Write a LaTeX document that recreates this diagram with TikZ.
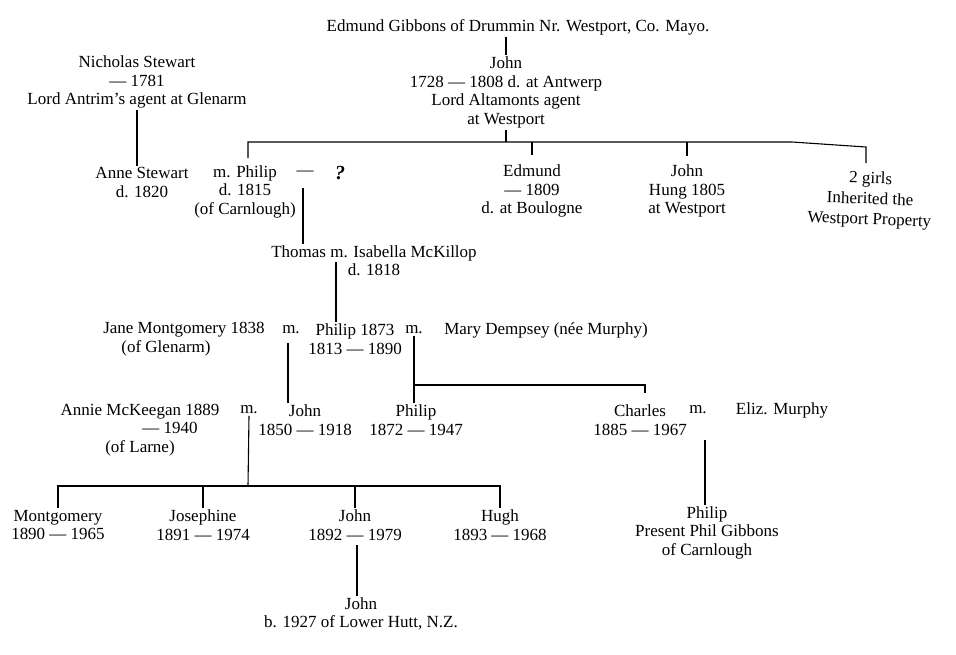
\documentclass[tikz,border=0pt]{standalone}
\usepackage{fontspec}
\setmainfont{Liberation Serif}
\usepackage{tikz}

\begin{document}
\begin{tikzpicture}[x=1pt,y=-1pt,
    person/.style={align=center,inner sep=1.5pt,font=\fontsize{17}{18.5}\selectfont},
    link/.style={line width=1.1pt}]
\useasboundingbox (0,0) rectangle (956,654);

% Gibbons of Drummin
\node[person] (edmund) at (518,27) {Edmund Gibbons of Drummin Nr. Westport, Co. Mayo.};
\node[person] (johnsr) at (506,92.5) {John\\1728 — 1808 d. at Antwerp\\Lord Altamonts agent\\at Westport};
\draw[link] (johnsr.north |- edmund.south) -- (johnsr.north);

% Stewart side
\node[person] (nicholas) at (137,82) {Nicholas Stewart\\— 1781\\Lord Antrim's agent at Glenarm};
\node[person] (anne) at (142,182.5) {Anne Stewart\\d. 1820};
\draw[link] (nicholas.south) -- (nicholas.south |- anne.north);

% Children of John
\node[person] (philip) at (245,191.5) {m. Philip\\d. 1815\\(of Carnlough)};
\node[person] (dash) at (305,173) {—};
\node[person] (unknown) at (340,173) {\fontsize{20}{20}\selectfont\textbf{\textit{?}}};
\node[person] (edmundjr) at (532,191) {Edmund\\— 1809\\d. at Boulogne};
\node[person] (johnhung) at (687,191) {John\\Hung 1805\\at Westport};
\node[person,rotate=-2,font=\fontsize{17}{20.5}\selectfont] (girls) at (870,200) {2 girls\\Inherited the\\Westport Property};
\coordinate (bar) at (506,142);
\coordinate (bend) at (792,142);
\coordinate (girlsdrop) at (866,147);
\draw[link] (johnsr.south) -- (bar);
\draw[link] (248,158) -- (248,142) -- (bend) -- (girlsdrop) -- (866,163);
\draw[link] (edmundjr.north |- bar) -- ++(0,13);
\draw[link] (johnhung.north |- bar) -- ++(0,14);

% Thomas
\node[person] (thomas) at (374,260.5) {Thomas m. Isabella McKillop\\d. 1818};
\draw[link] (303,188) -- (303,188 |- thomas.north);
\coordinate (thomasdrop) at (336,262);

% Philip and his two marriages
\node[person] (jane) at (184,330) {Jane Montgomery 1838};
\node[person] (janeof) at (166,348) {(of Glenarm)};
\node[person] (m1) at (291,330) {m.};
\node[person] (philip2) at (355,339) {Philip 1873\\1813 — 1890};
\node[person] (m2) at (414,330) {m.};
\node[person] (mary) at (546,330) {Mary Dempsey (née Murphy)};
\draw[link] (thomasdrop) -- (thomasdrop |- philip2.north);

% Next generation
\node[person] (annie) at (140,430) {Annie McKeegan 1889\\\hspace*{60pt}— 1940\\(of Larne)};
\node[person] (m3) at (249,410) {m.};
\node[person] (john3) at (305,420) {John\\1850 — 1918};
\node[person] (philip3) at (416,420) {Philip\\1872 — 1947};
\node[person] (charles) at (640,420) {Charles\\1885 — 1967};
\node[person] (m4) at (698,410) {m.};
\node[person] (eliz) at (782,410) {Eliz. Murphy};
\coordinate (sib) at (0,385);
\draw[link] (288,343) -- (288,343 |- john3.north);
\draw[link] (m2.south) -- (m2.south |- philip3.north);
\draw[link] (m2.south |- sib) -- (645,385) -- (645,393);

% Children of John and Annie
\node[person] (montgomery) at (58,525) {Montgomery\\1890 — 1965};
\node[person] (josephine) at (203,525) {Josephine\\1891 — 1974};
\node[person] (john4) at (355,525) {John\\1892 — 1979};
\node[person] (hugh) at (500,525) {Hugh\\1893 — 1968};
\coordinate (kids) at (248,486);
\draw[link] (m3.south) -- (kids);
\draw[link] (montgomery.north) -- (montgomery.north |- kids) -- (hugh.north |- kids) -- (hugh.north);
\foreach \k in {josephine,john4}
    \draw[link] (\k.north |- kids) -- (\k.north);

% Grandsons
\node[person] (john5) at (361,614) {John\\b. 1927 of Lower Hutt, N.Z.};
\node[person] (philip4) at (707,532.5) {Philip\\Present Phil Gibbons\\of Carnlough};
\draw[link] (357,545) -- (357,545 |- john5.north);
\draw[link] (705,440) -- (705,440 |- philip4.north);

\end{tikzpicture}
\end{document}
